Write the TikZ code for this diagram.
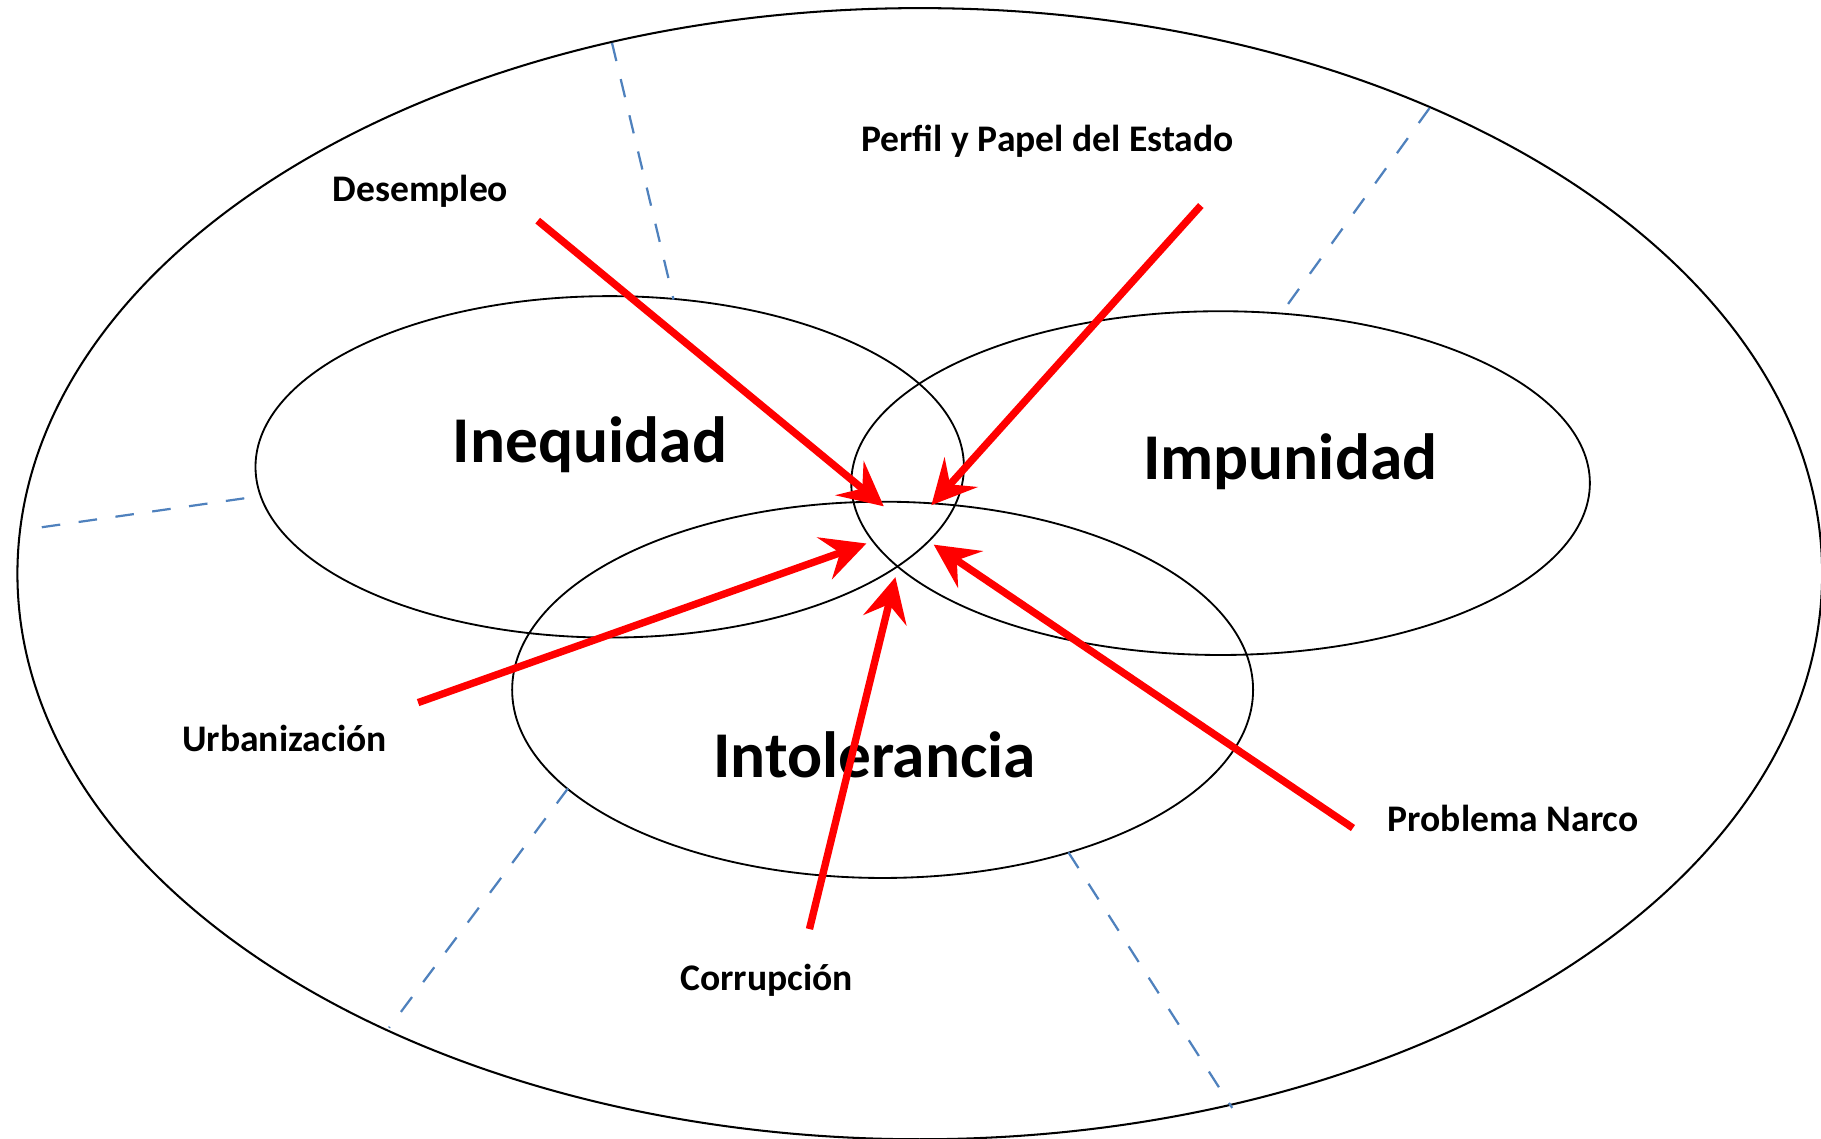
\documentclass[tikz,border=0pt]{standalone}
\usepackage{fontspec}
\setmainfont{Carlito}
\usetikzlibrary{arrows.meta}
\tikzset{>=stealth}
\definecolor{azulguia}{RGB}{79,129,189}
\tikzset{
	flecha/.style={red, line width=1.8pt, -{Stealth[length=3.8mm, width=3.8mm, inset=1.4mm]}},
	guia/.style={azulguia, line width=0.55pt, dash pattern=on 1.6mm off 1.6mm},
	factor/.style={font=\bfseries\fontsize{9.2}{11}\selectfont},
	tema/.style={font=\bfseries\fontsize{16}{19}\selectfont}
}

\begin{document}
\begin{tikzpicture}[x=0.01cm, y=-0.01cm]
	\useasboundingbox (0,0) rectangle (1568,980);
	% contorno y conjuntos
	\draw [line width=0.5pt] (792,494) ellipse [x radius=777, y radius=487];
	\draw [line width=0.45pt] (525,402) ellipse [x radius=305, y radius=147];
	\draw [line width=0.45pt] (1051,416) ellipse [x radius=318, y radius=148];
	\draw [line width=0.45pt] (760,594) ellipse [x radius=319, y radius=162];
	% divisiones
	\draw [guia] (527,37) -- (580,258);
	\draw [guia] (1231,93) -- (1101,273);
	\draw [guia] (36,454) -- (218,428);
	\draw [guia] (489,679) -- (335,885);
	\draw [guia] (920,734) -- (1061,954);
	% textos
	\node [tema] (ineq) at (508,383) {Inequidad};
	\node [tema] (impu) at (1111,398) {Impunidad};
	\node [tema] (into) at (753,650) {Intolerancia};
	\node [factor] (dese) at (362,165) {Desempleo};
	\node [factor] (perf) at (902,122) {Perfil y Papel del Estado};
	\node [factor] (urba) at (245,636) {Urbanización};
	\node [factor] (corr) at (660,844) {Corrupción};
	\node [factor] (narc) at (1303,705) {Problema Narco};
	% flechas hacia el centro
	\coordinate (d0) at (463,190);  \coordinate (d1) at (761,436);
	\coordinate (p0) at (1034,177); \coordinate (p1) at (802,435);
	\coordinate (u0) at (360,605);  \coordinate (u1) at (746,468);
	\coordinate (c0) at (697,800);  \coordinate (c1) at (771,497);
	\coordinate (n0) at (1165,713); \coordinate (n1) at (804,469);
	\foreach \a in {d,p,u,c,n}
	\draw [flecha] (\a0) -- (\a1);
\end{tikzpicture}
\end{document}
